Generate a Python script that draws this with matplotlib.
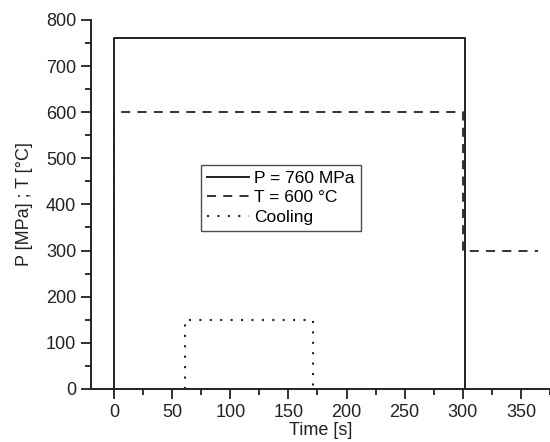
import matplotlib.pyplot as plt
from matplotlib.ticker import MultipleLocator

plt.rcParams['font.family'] = ['Liberation Sans', 'DejaVu Sans']

# Pressure profile
p_time = [0, 0, 302, 302]
p_val = [0, 760, 760, 0]

# Temperature profile
t_time = [0, 0, 300, 300, 365]
t_val = [300, 600, 600, 300, 300]

# Cooling window
c_time = [61, 61, 171, 171]
c_val = [0, 150, 150, 0]

fig = plt.figure(figsize=(5.5, 4.42), dpi=100)
ax = fig.add_axes([0.165, 0.12, 0.835, 0.835])

ax.plot(p_time, p_val, '-', color='#222222', lw=1.4, label='P = 760 MPa')
ax.plot(t_time, t_val, '--', color='#222222', lw=1.3, dashes=(5, 4), label='T = 600 °C')
ax.plot(c_time, c_val, ':', color='#222222', lw=1.5, dashes=(1, 4), label='Cooling')

ax.set_xlim(-20, 375)
ax.set_ylim(0, 800)
ax.xaxis.set_major_locator(MultipleLocator(50))
ax.xaxis.set_minor_locator(MultipleLocator(25))
ax.yaxis.set_major_locator(MultipleLocator(100))
ax.yaxis.set_minor_locator(MultipleLocator(50))
ax.tick_params(which='both', direction='out', width=1.3, labelsize=13, color='#222222',
               labelcolor='#222222')
ax.tick_params(which='major', length=7)
ax.tick_params(which='minor', length=4)

for side in ['top', 'right']:
    ax.spines[side].set_visible(False)
for side in ['left', 'bottom']:
    ax.spines[side].set_linewidth(1.4)
    ax.spines[side].set_color('#222222')

ax.set_xlabel('Time [s]', fontsize=13, labelpad=1, color='#222222')
ax.set_ylabel('P [MPa] ; T [°C]', fontsize=13, labelpad=9, color='#222222')

leg = ax.legend(loc='center', bbox_to_anchor=(0.414, 0.518), fontsize=12.5, frameon=True,
                fancybox=False, edgecolor='#222222', handlelength=2.4, borderpad=0.35,
                labelspacing=0.25, handletextpad=0.3, borderaxespad=0)
leg.get_frame().set_linewidth(1.0)

fig.savefig('out.png', dpi=100)
